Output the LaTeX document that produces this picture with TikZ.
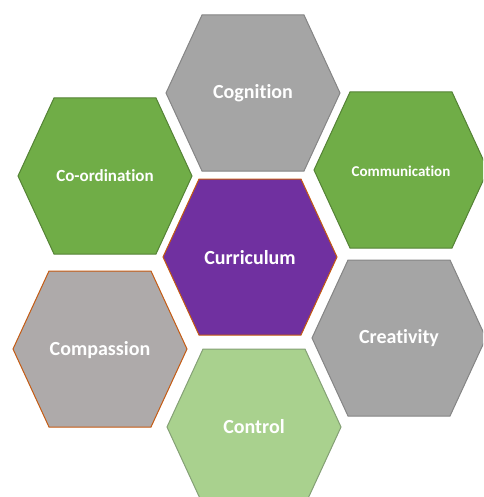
\documentclass[tikz,border=0pt]{standalone}
\usepackage{fontspec}
\setmainfont{Carlito}[Ligatures=NoCommon]
\usepackage{xcolor}
\definecolor{cellgrey}{HTML}{A5A5A5}
\definecolor{cellgreyline}{HTML}{858585}
\definecolor{cellgreen}{HTML}{70AD47}
\definecolor{cellgreenline}{HTML}{548235}
\definecolor{cellpurple}{HTML}{7030A0}
\definecolor{cellorange}{HTML}{C55A11}
\definecolor{cellwarmgrey}{HTML}{AEAAAA}
\definecolor{celllightgreen}{HTML}{A9D18E}
\definecolor{celllightline}{HTML}{84A075}

\begin{document}
\begin{tikzpicture}[x=1pt,y=-1pt]
        \tikzset{hexcell/.pic={\path[pic actions] (-87,0) -- (-51,-78) -- (51,-78)
                -- (87,0) -- (51,78) -- (-51,78) -- cycle;},
            every pic/.style={line width=1pt},
            celltext/.style={text=white,font=\bfseries\fontsize{20}{24}\selectfont},
            greycell/.style={fill=cellgrey,draw=cellgreyline},
            greencell/.style={fill=cellgreen,draw=cellgreenline},
            purplecell/.style={fill=cellpurple,draw=cellorange},
            warmcell/.style={fill=cellwarmgrey,draw=cellorange},
            lightcell/.style={fill=celllightgreen,draw=celllightline}}
        \clip (0,0) rectangle (483,497);
        % the seven cells
        \pic[greycell] at (253,93) {hexcell};
        \pic[greencell] at (105,176) {hexcell};
        \pic[greencell] at (401,170) {hexcell};
        \pic[purplecell] at (250,257) {hexcell};
        \pic[warmcell] at (100,349) {hexcell};
        \pic[greycell] at (399,338) {hexcell};
        \pic[lightcell] at (254,427) {hexcell};
        % names
        \node[celltext] (cognition) at (253,93) {Cognition};
        \node[celltext,font=\bfseries\fontsize{17}{20}\selectfont] (coordination) at (105,176) {Co-ordination};
        \node[celltext,font=\bfseries\fontsize{15}{18}\selectfont] (communication) at (401,171) {Communication};
        \node[celltext] (curriculum) at (250,258) {Curriculum};
        \node[celltext] (compassion) at (100,350) {Compassion};
        \node[celltext] (creativity) at (399,338) {Creativity};
        \node[celltext] (control) at (254,427) {Control};
\end{tikzpicture}
\end{document}
